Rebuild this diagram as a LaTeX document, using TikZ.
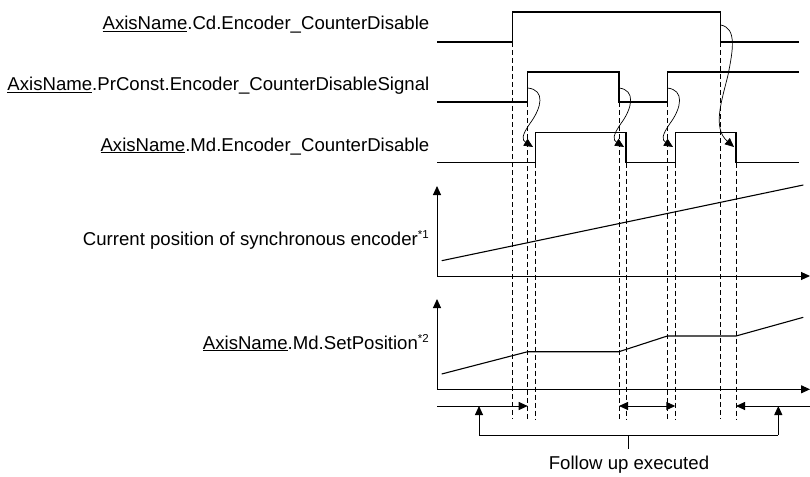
\documentclass[tikz,border=0pt]{standalone}
\usepackage{fontspec}
\setmainfont{Liberation Sans}
\usetikzlibrary{arrows.meta}
\newcommand{\supmark}[1]{\raisebox{7pt}{\fontsize{11.5}{11.5}\selectfont #1}}
\begin{document}
\begin{tikzpicture}[x=1pt,y=-1pt,
  lbl/.style={inner sep=0pt,anchor=base east,font=\fontsize{18.6}{20}\selectfont},
  sig/.style={line width=1.4pt,line join=miter},
  guide/.style={line width=0.8pt,dash pattern=on 5pt off 3pt},
  axis/.style={line width=1pt,-{Triangle[length=9pt,width=8pt]}},
  plot/.style={line width=1.1pt},
  span/.style={line width=0.9pt,-{Triangle[length=9pt,width=8pt]}},
  dspan/.style={line width=0.9pt,{Triangle[length=9pt,width=8pt]}-{Triangle[length=9pt,width=8pt]}},
  cause/.style={line width=0.7pt,-{Triangle[length=9pt,width=8pt]}}]
\useasboundingbox (0,0) rectangle (810,476);

% labels
\node[lbl] (lcd) at (429.5,30) {\underline{AxisName}.Cd.Encoder\_CounterDisable};
\node[lbl] (lpr) at (429.5,91) {\underline{AxisName}.PrConst.Encoder\_CounterDisableSignal};
\node[lbl] (lmd) at (429.5,151) {\underline{AxisName}.Md.Encoder\_CounterDisable};
\node[lbl] (lenc) at (429,245) {Current position of synchronous encoder\supmark{*1}};
\node[lbl] (lset) at (429,349) {\underline{AxisName}.Md.SetPosition\supmark{*2}};

% dashed guide lines
\foreach \x/\y in {512.7/42,527.7/102,535.7/162.7,619/102,626/162.7,667.3/102,675.3/162.7,720.7/42,736/162.7}
  \draw[guide] (\x,\y) -- (\x,419);

% signals
\draw[sig] (437,42) -- (512.7,42) -- (512.7,12) -- (720.7,12) -- (720.7,42) -- (799,42);
\draw[sig] (437,102) -- (527.7,102) -- (527.7,72) -- (619,72) -- (619,102) -- (667.3,102) -- (667.3,72) -- (799,72);
\draw[sig] (437,162.7) -- (535.7,162.7) -- (535.7,132.3) -- (626,132.3) -- (626,162.7) -- (675.3,162.7) -- (675.3,132.3) -- (736,132.3) -- (736,162.7) -- (799,162.7);

% cause arrows
\coordinate (s1) at (527.7,88);  \coordinate (t1) at (533,147);
\coordinate (s2) at (619,88);    \coordinate (t2) at (624,147);
\coordinate (s3) at (667.3,88);  \coordinate (t3) at (673,147);
\coordinate (s4) at (720.7,25);  \coordinate (t4) at (734,147);
\draw[cause] (s1) .. controls (546,90) and (541,108) .. (531,122) .. controls (521,136) and (522,140) .. (t1);
\draw[cause] (s2) .. controls (636,90) and (632,108) .. (622,122) .. controls (612,136) and (613,140) .. (t2);
\draw[cause] (s3) .. controls (685,90) and (681,108) .. (671,122) .. controls (661,136) and (662,140) .. (t3);
\draw[cause] (s4) .. controls (737,28) and (733,50) .. (728,75) .. controls (722,100) and (712,128) .. (t4);

% encoder position chart
\coordinate (o1) at (437,276);
\coordinate (y1) at (437,186);
\coordinate (x1) at (810,276);
\draw[axis] (o1) -- (y1);
\draw[axis] (o1) -- (x1);
\coordinate (e0) at (441.7,260.7);
\coordinate (e1) at (803.3,185);
\draw[plot] (e0) -- (e1);

% set position chart
\coordinate (o2) at (437,389.3);
\coordinate (y2) at (437,299);
\coordinate (x2) at (810,389.3);
\draw[axis] (o2) -- (y2);
\draw[axis] (o2) -- (x2);
\draw[plot] (441.7,374) -- (527.7,351.7) -- (619,351.7) -- (667.3,336) -- (736,336) -- (803.3,317.3);

% follow up spans
\coordinate (a0) at (437,406);   \coordinate (a1) at (527.7,406);
\coordinate (b0) at (619,406);   \coordinate (b1) at (675.3,406);
\coordinate (c0) at (810,406);   \coordinate (c1) at (736,406);
\draw[span] (a0) -- (a1);
\draw[dspan] (b0) -- (b1);
\draw[span] (c0) -- (c1);
\coordinate (u1) at (479,435);   \coordinate (v1) at (479,406);
\coordinate (u2) at (778.3,435); \coordinate (v2) at (778.3,406);
\draw[span] (u1) -- (v1);
\draw[span] (u2) -- (v2);
\draw[line width=0.9pt] (u1) -- (u2);
\node[inner sep=0pt,anchor=base,font=\fontsize{18.6}{20}\selectfont] (fu) at (629,469) {Follow up executed};
\coordinate (m0) at (628.3,435);
\draw[line width=0.9pt] (m0) -- (628.3,449);
\end{tikzpicture}
\end{document}
